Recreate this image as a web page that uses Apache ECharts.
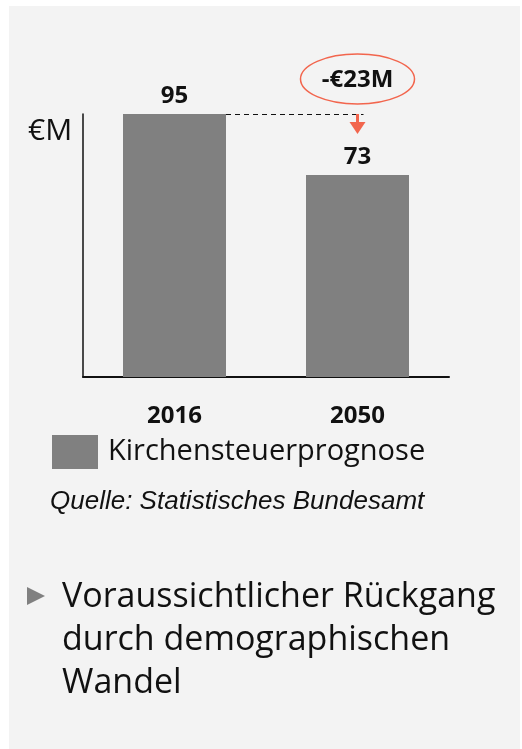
<!DOCTYPE html>
<html>
<head>
<meta charset="utf-8">
<script src="https://cdn.jsdelivr.net/npm/echarts@6/dist/echarts.min.js"></script>
<style>
html,body{margin:0;padding:0;background:#ffffff;}
#panel{position:absolute;left:9px;top:6px;width:511px;height:743px;background:#f3f3f3;}
#chart{position:absolute;left:0;top:0;width:522px;height:749px;}
</style>
</head>
<body>
<div id="panel"></div>
<div id="chart"></div>
<script>
const categories = ['2016', '2050'];
const values = [95, 73];
const seriesName = 'Kirchensteuerprognose';
const unitLabel = '€M';
const changeLabel = '-€23M';
const sourceText = 'Quelle: Statistisches Bundesamt';
const bulletLines = ['Voraussichtlicher Rückgang', 'durch demographischen', 'Wandel'];

const chart = echarts.init(document.getElementById('chart'), null, {renderer: 'canvas'});
const BAR_W = 103;
const option = {
  backgroundColor: 'transparent',
  animation: false,
  grid: {left: 83, right: 73, top: 114, bottom: 372, containLabel: false},
  legend: {
    left: 47, top: 430,
    icon: 'rect', itemWidth: 46, itemHeight: 34,
    data: [seriesName],
    textStyle: {fontFamily: 'Open Sans', fontSize: 29, color: '#111', padding: [8, 0, 0, 5]}
  },
  xAxis: {
    type: 'category', data: categories,
    axisLine: {show: true, lineStyle: {color: '#111', width: 2}},
    axisTick: {show: false},
    axisLabel: {margin: 27, fontFamily: 'Open Sans', fontWeight: 'bold', fontSize: 24, color: '#111'}
  },
  yAxis: {
    type: 'value', min: 0, max: 95,
    axisLine: {show: true, lineStyle: {color: '#111', width: 1.5}},
    axisTick: {show: false}, axisLabel: {show: false}, splitLine: {show: false}
  },
  series: [{
    name: seriesName, type: 'bar', data: values, barWidth: BAR_W,
    itemStyle: {color: '#808080'},
    label: {show: true, position: 'top', distance: 6, fontFamily: 'Open Sans', fontWeight: 'bold', fontSize: 24, color: '#111'}
  }]
};
chart.setOption(option);

const p0 = chart.convertToPixel({seriesIndex: 0}, [0, values[0]]);
const p1 = chart.convertToPixel({seriesIndex: 0}, [1, values[1]]);
const topY = p0[1];
const ax = p1[0];
const red = '#f2654d';
chart.setOption({
  graphic: [
    {type: 'text', left: 28, top: 116, style: {text: unitLabel, font: '30px "Open Sans"', fill: '#111'}},
    {type: 'line', shape: {x1: p0[0] + BAR_W / 2, y1: topY + 0.5, x2: ax + 6, y2: topY + 0.5},
     style: {stroke: '#111', lineWidth: 1, lineDash: [5, 4]}},
    {type: 'line', shape: {x1: ax, y1: topY, x2: ax, y2: topY + 9}, style: {stroke: red, lineWidth: 3}},
    {type: 'polygon', shape: {points: [[ax - 8, topY + 8], [ax + 8, topY + 8], [ax, topY + 20]]}, style: {fill: red}},
    {type: 'ellipse', shape: {cx: ax, cy: topY - 35, rx: 57, ry: 25}, style: {fill: 'none', stroke: red, lineWidth: 1.5}},
    {type: 'text', x: ax, y: topY - 34, style: {text: changeLabel, font: 'bold 24px "Open Sans"', fill: '#111', align: 'center', verticalAlign: 'middle'}},
    {type: 'text', left: 50, top: 489, style: {text: sourceText, font: 'italic 26px "Liberation Sans"', fill: '#111'}},
    {type: 'polygon', shape: {points: [[27, 587], [27, 605], [45, 596]]}, style: {fill: '#808080'}},
    {type: 'text', left: 62, top: 576, style: {text: bulletLines.join('\n'), font: '34px "Open Sans"', fill: '#111', lineHeight: 43}}
  ]
});
</script>
</body>
</html>
